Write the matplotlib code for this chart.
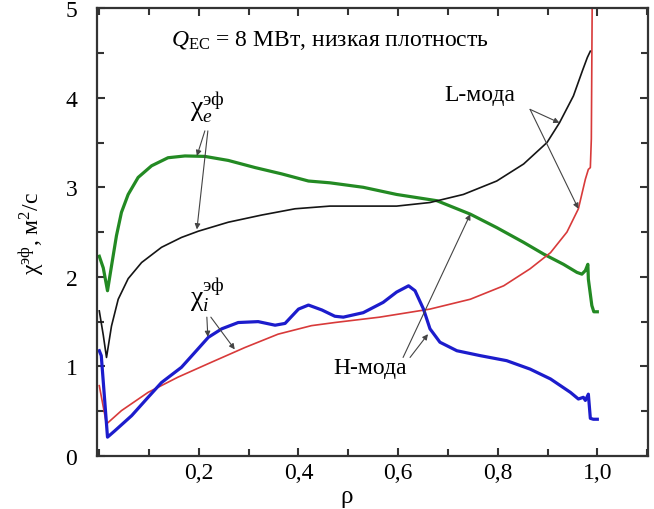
import matplotlib
matplotlib.use("Agg")
import matplotlib.pyplot as plt
from matplotlib.ticker import MultipleLocator, FixedLocator, FixedFormatter

plt.rcParams["font.family"] = ["Liberation Serif", "DejaVu Serif"]
plt.rcParams["mathtext.fontset"] = "custom"
plt.rcParams["mathtext.rm"] = "Liberation Serif"
plt.rcParams["mathtext.it"] = "Liberation Serif:italic"

# H-mode, electron diffusivity (green)
rho_e_h = [0.0, 0.008, 0.0165, 0.0245, 0.0345, 0.0445, 0.058, 0.078, 0.105, 0.138, 0.172,
           0.212, 0.259, 0.313, 0.366, 0.42, 0.463, 0.53, 0.597, 0.678, 0.745, 0.798,
           0.852, 0.892, 0.932, 0.959, 0.969, 0.976, 0.981, 0.982, 0.989, 0.993, 1.0]
chi_e_h = [2.23, 2.1, 1.845, 2.12, 2.46, 2.72, 2.92, 3.11, 3.24, 3.33, 3.35,
           3.345, 3.30, 3.22, 3.15, 3.07, 3.05, 3.0, 2.92, 2.85, 2.70, 2.55,
           2.385, 2.255, 2.14, 2.05, 2.03, 2.07, 2.14, 1.975, 1.68, 1.61, 1.61]

# L-mode, electron diffusivity (black)
rho_e_l = [0.0, 0.008, 0.0145, 0.0245, 0.038, 0.058, 0.085, 0.125, 0.165, 0.199, 0.259,
           0.326, 0.393, 0.463, 0.597, 0.664, 0.731, 0.798, 0.852, 0.899, 0.924,
           0.952, 0.97, 0.98, 0.986]
chi_e_l = [1.62, 1.35, 1.10, 1.45, 1.75, 1.98, 2.16, 2.33, 2.44, 2.51, 2.61,
           2.69, 2.76, 2.79, 2.79, 2.83, 2.92, 3.07, 3.26, 3.50, 3.72,
           4.02, 4.3, 4.45, 4.52]

# L-mode, ion diffusivity (red)
rho_i_l = [0.0, 0.0145, 0.0445, 0.098, 0.158, 0.225, 0.292, 0.359, 0.426, 0.473, 0.563,
           0.664, 0.745, 0.812, 0.865, 0.906, 0.939, 0.962, 0.976, 0.982, 0.986,
           0.988, 0.99]
chi_i_l = [0.785, 0.357, 0.506, 0.71, 0.88, 1.046, 1.21, 1.36, 1.455, 1.49, 1.55,
           1.64, 1.75, 1.90, 2.09, 2.27, 2.50, 2.76, 3.09, 3.20, 3.22,
           3.54, 5.3]

# H-mode, ion diffusivity (blue)
rho_i_h = [0.0, 0.004, 0.0165, 0.031, 0.065, 0.098, 0.125, 0.165, 0.192, 0.219, 0.246,
           0.279, 0.319, 0.353, 0.373, 0.40, 0.42, 0.447, 0.473, 0.49, 0.53, 0.57,
           0.597, 0.621, 0.634, 0.651, 0.664, 0.684, 0.718, 0.765, 0.818, 0.865,
           0.906, 0.946, 0.962, 0.972, 0.976, 0.982, 0.986, 0.992, 1.0]
chi_i_h = [1.175, 1.12, 0.21, 0.28, 0.45, 0.655, 0.82, 0.99, 1.157, 1.325, 1.42,
           1.49, 1.50, 1.46, 1.48, 1.64, 1.685, 1.63, 1.56, 1.55, 1.60, 1.715,
           1.83, 1.90, 1.845, 1.64, 1.42, 1.27, 1.175, 1.12, 1.064, 0.97,
           0.86, 0.71, 0.636, 0.655, 0.62, 0.69, 0.42, 0.41, 0.41]

x_ticks = [0.2, 0.4, 0.6, 0.8, 1.0]
x_labels = ["0,2", "0,4", "0,6", "0,8", "1,0"]
y_ticks = [0, 1, 2, 3, 4, 5]
y_labels = ["0", "1", "2", "3", "4", "5"]

fig = plt.figure(figsize=(6.54, 5.10), dpi=100)
ax = fig.add_axes([0.148, 0.104, 0.843, 0.878])

ax.plot(rho_e_h, chi_e_h, color="#238a23", lw=2.3, solid_joinstyle="round")
ax.plot(rho_e_l, chi_e_l, color="#151515", lw=1.2)
ax.plot(rho_i_l, chi_i_l, color="#d83a3a", lw=1.2)
ax.plot(rho_i_h, chi_i_h, color="#1c1ccc", lw=2.3, solid_joinstyle="round")

ax.set_xlim(-0.005, 1.102)
ax.set_ylim(0, 5)

ax.xaxis.set_major_locator(FixedLocator(x_ticks))
ax.xaxis.set_major_formatter(FixedFormatter(x_labels))
ax.xaxis.set_minor_locator(MultipleLocator(0.1))
ax.yaxis.set_major_locator(FixedLocator(y_ticks))
ax.yaxis.set_major_formatter(FixedFormatter(y_labels))
ax.yaxis.set_minor_locator(MultipleLocator(0.5))
ax.tick_params(which="both", direction="in", top=True, right=True,
               color="#333333", width=1.5, labelsize=17)
ax.tick_params(which="major", length=6)
ax.tick_params(which="minor", length=5)
ax.tick_params(axis="x", pad=4)
ax.tick_params(axis="y", pad=14)
for s in ax.spines.values():
    s.set_color("#333333")
    s.set_linewidth(1.6)

ax.set_ylabel(r"$\mathrm{χ}^{\mathrm{эф}}$, м$^{2}$/с", fontsize=17, labelpad=14)
fig.text(347 / 654, 1 - 497 / 510, "ρ", fontsize=18, ha="center", va="center")

ax.text(0.463, 4.65, r"$Q_{\mathrm{EC}}$ = 8 МВт, низкая плотность",
        fontsize=17, ha="center", va="center")

arrow = dict(arrowstyle="-|>", color="#444444", lw=0.8, mutation_scale=8,
             shrinkA=0, shrinkB=0)

# electron labels
ax.text(0.218, 3.9, r"$\mathrm{χ}_{e}^{\mathrm{эф}}$", fontsize=20, ha="center", va="center")
ax.annotate("", xy=(0.196, 3.35), xytext=(0.212, 3.63), arrowprops=arrow)
ax.annotate("", xy=(0.196, 2.53), xytext=(0.218, 3.63), arrowprops=arrow)

# ion labels
ax.text(0.218, 1.81, r"$\mathrm{χ}_{i}^{\mathrm{эф}}$", fontsize=20, ha="center", va="center")
ax.annotate("", xy=(0.218, 1.33), xytext=(0.216, 1.55), arrowprops=arrow)
ax.annotate("", xy=(0.272, 1.19), xytext=(0.224, 1.55), arrowprops=arrow)

# mode labels
ax.text(0.765, 4.04, "L-мода", fontsize=17, ha="center", va="center")
ax.annotate("", xy=(0.924, 3.72), xytext=(0.865, 3.87), arrowprops=arrow)
ax.annotate("", xy=(0.962, 2.76), xytext=(0.865, 3.87), arrowprops=arrow)

ax.text(0.544, 0.99, "H-мода", fontsize=17, ha="center", va="center")
ax.annotate("", xy=(0.745, 2.70), xytext=(0.61, 1.1), arrowprops=arrow)
ax.annotate("", xy=(0.66, 1.36), xytext=(0.624, 1.1), arrowprops=arrow)

fig.savefig("out.png", dpi=100)
